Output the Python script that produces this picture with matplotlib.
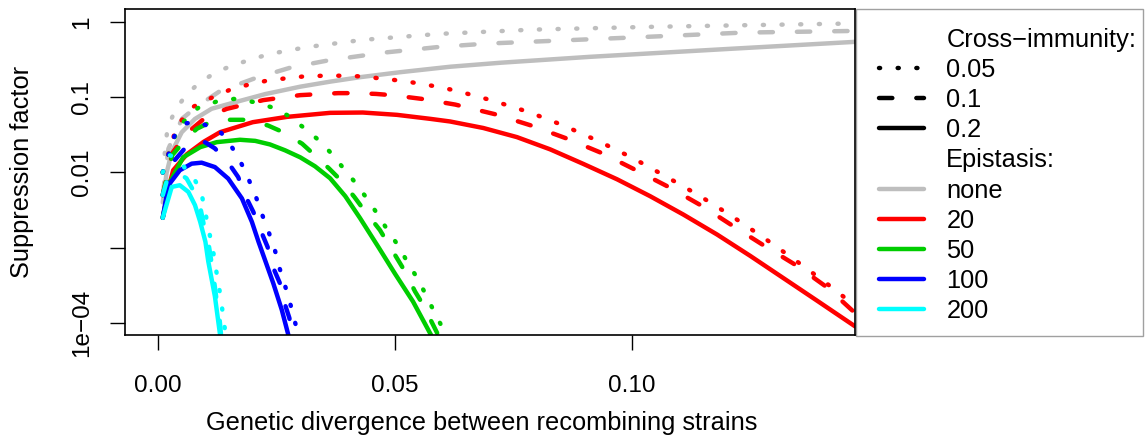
import matplotlib
matplotlib.use("Agg")
import matplotlib.pyplot as plt
from matplotlib.lines import Line2D
from matplotlib.patches import Rectangle

plt.rcParams['font.family'] = ['Liberation Sans', 'DejaVu Sans']
plt.rcParams['font.size'] = 17.5

# genetic divergence (d) and suppression factor (s), one pair per curve
# epistasis: none
none_c05_d = [0.001, 0.002, 0.0036, 0.0059, 0.0088, 0.0122, 0.0159, 0.0234, 0.0314, 0.0432, 0.0593, 0.0791, 0.1032, 0.1234, 0.147]
none_c05_s = [0.010, 0.039, 0.0665, 0.107, 0.157, 0.214, 0.268, 0.374, 0.463, 0.578, 0.694, 0.791, 0.859, 0.904, 0.955]
none_c10_d = [0.001, 0.0022, 0.0034, 0.0051, 0.0082, 0.0131, 0.0205, 0.0281, 0.0361, 0.0479, 0.0595, 0.0694, 0.0996, 0.1234, 0.147]
none_c10_s = [0.005, 0.0207, 0.031, 0.052, 0.0751, 0.121, 0.179, 0.249, 0.31, 0.393, 0.467, 0.516, 0.620, 0.722, 0.760]
none_c20_d = [0.001, 0.0018, 0.0029, 0.005, 0.0078, 0.0113, 0.0152, 0.0226, 0.030, 0.0363, 0.0426, 0.0511, 0.0616,
              0.0722, 0.0911, 0.1207, 0.147]
none_c20_s = [0.004, 0.0098, 0.0187, 0.0342, 0.0515, 0.0702, 0.0823, 0.110, 0.138, 0.161, 0.1845, 0.215, 0.254,
              0.287, 0.344, 0.4395, 0.544]

# epistasis: 20
e20_c05_d = [0.001, 0.004, 0.0075, 0.0115, 0.0151, 0.0191, 0.023, 0.0269, 0.0308, 0.035, 0.039, 0.0429, 0.0468, 0.0511,
             0.0549, 0.0589, 0.0629, 0.0706, 0.0783, 0.0857, 0.093, 0.1001, 0.1072, 0.1141, 0.1209, 0.1276, 0.134, 0.1405, 0.147]
e20_c05_s = [0.010, 0.042, 0.075, 0.0997, 0.125, 0.147, 0.166, 0.178, 0.189, 0.193, 0.193, 0.189, 0.178, 0.166,
             0.153, 0.138, 0.122, 0.090, 0.0632, 0.0417, 0.0259, 0.0156, 0.0088, 0.00495, 0.00266, 0.00138, 0.000713, 0.000356, 0.00017]
e20_c10_d = [0.001, 0.003, 0.006, 0.010, 0.0145, 0.0222, 0.030, 0.038, 0.0416, 0.046, 0.0496, 0.0557, 0.0627, 0.0711,
             0.0787, 0.0863, 0.0937, 0.1006, 0.1078, 0.1148, 0.1213, 0.1281, 0.1348, 0.1411, 0.147]
e20_c10_s = [0.005, 0.018, 0.033, 0.0537, 0.070, 0.0915, 0.1066, 0.1133, 0.1133, 0.1106, 0.106, 0.0949, 0.0798, 0.0594,
             0.0421, 0.0281, 0.018, 0.0109, 0.00637, 0.00357, 0.00194, 0.00104, 0.000574, 0.000298, 0.000136]
e20_c20_d = [0.001, 0.0025, 0.0032, 0.0061, 0.0096, 0.0131, 0.020, 0.0272, 0.0363, 0.0432, 0.0504, 0.0574, 0.0616,
             0.0686, 0.0757, 0.0827, 0.0897, 0.0968, 0.1038, 0.1108, 0.1179, 0.1249, 0.1319, 0.139, 0.147]
e20_c20_s = [0.0025, 0.0072, 0.0107, 0.0175, 0.0255, 0.0343, 0.0466, 0.0548, 0.062, 0.0626, 0.0583, 0.0516, 0.0476,
             0.039, 0.0295, 0.0203, 0.013, 0.00813, 0.00484, 0.00276, 0.0015, 0.00078, 0.000395, 0.000198, 0.0000904]

# epistasis: 50
e50_c05_d = [0.001, 0.0042, 0.0084, 0.0122, 0.016, 0.020, 0.024, 0.0274, 0.0306, 0.0338, 0.0365, 0.039, 0.0416, 0.0439,
             0.0462, 0.0483, 0.0506, 0.0525, 0.0546, 0.0565, 0.0582, 0.0601, 0.0608]
e50_c05_s = [0.010, 0.040, 0.0718, 0.0869, 0.0949, 0.0867, 0.0735, 0.0571, 0.040, 0.0272, 0.0181, 0.0116, 0.00735, 0.00466,
             0.00286, 0.00176, 0.00108, 0.000663, 0.000402, 0.000238, 0.000143, 0.000084, 0.000065]
e50_c10_d = [0.001, 0.003, 0.006, 0.0082, 0.011, 0.0152, 0.0186, 0.0232, 0.0264, 0.0304, 0.0327, 0.0361, 0.0384, 0.0414,
             0.0432, 0.0468, 0.0504, 0.0521, 0.0542, 0.0559, 0.058, 0.0591]
e50_c10_s = [0.005, 0.017, 0.0283, 0.0381, 0.0466, 0.0501, 0.0501, 0.0421, 0.0343, 0.0241, 0.0178, 0.01126, 0.00806, 0.00474,
             0.00333, 0.00172, 0.000726, 0.000483, 0.000263, 0.000175, 0.000095, 0.000069]
e50_c20_d = [0.001, 0.0025, 0.0053, 0.0089, 0.0124, 0.0173, 0.0205, 0.0236, 0.0268, 0.030, 0.0331, 0.0363, 0.0395,
             0.0426, 0.0466, 0.050, 0.0538, 0.0576]
e50_c20_s = [0.0025, 0.0074, 0.0159, 0.0217, 0.0253, 0.0272, 0.0263, 0.0236, 0.0197, 0.0159, 0.0121, 0.00838, 0.00484,
             0.00248, 0.000994, 0.00045, 0.000192, 0.000069]

# epistasis: 100
e100_c05_d = [0.001, 0.0035, 0.006, 0.0085, 0.0131, 0.0155, 0.0175, 0.0192, 0.0207, 0.022, 0.0234, 0.0247, 0.0257,
              0.0269, 0.028, 0.029, 0.0293]
e100_c05_s = [0.010, 0.031, 0.0451, 0.047, 0.0351, 0.0222, 0.0135, 0.00789, 0.00466, 0.00272, 0.00158, 0.000907, 0.00052,
              0.000297, 0.00017, 0.000097, 0.00007]
e100_c10_d = [0.001, 0.0035, 0.0062, 0.0096, 0.012, 0.0152, 0.0169, 0.0187, 0.0201, 0.0219, 0.0231, 0.0245, 0.0257,
              0.0268, 0.0277, 0.0283]
e100_c10_s = [0.005, 0.0145, 0.0229, 0.0259, 0.0209, 0.01245, 0.00871, 0.00452, 0.003, 0.00156, 0.00103, 0.000508,
              0.000339, 0.000175, 0.000117, 0.000069]
e100_c20_d = [0.001, 0.0022, 0.0046, 0.0071, 0.0092, 0.012, 0.0148, 0.0177, 0.0198, 0.0212, 0.0243, 0.0261, 0.0275]
e100_c20_s = [0.0025, 0.00677, 0.0107, 0.0131, 0.0135, 0.0118, 0.0083, 0.00452, 0.00221, 0.0012, 0.000339, 0.00015, 0.000069]

# epistasis: 200
e200_c05_d = [0.001, 0.0025, 0.0042, 0.006, 0.0078, 0.0091, 0.0099, 0.0106, 0.0115, 0.0121, 0.0128, 0.0134, 0.0139, 0.0143]
e200_c05_s = [0.010, 0.0169, 0.0154, 0.0107, 0.00789, 0.00552, 0.00316, 0.00181, 0.00102, 0.000574, 0.000322, 0.000181,
              0.000102, 0.000069]
e200_c10_d = [0.001, 0.0019, 0.004, 0.006, 0.0078, 0.0089, 0.0096, 0.0106, 0.0112, 0.0118, 0.0124, 0.013, 0.0133]
e200_c10_s = [0.005, 0.00789, 0.010, 0.00838, 0.00526, 0.0035, 0.00211, 0.0012, 0.00069, 0.000375, 0.000192, 0.000111, 0.000069]
e200_c20_d = [0.001, 0.0029, 0.0046, 0.0064, 0.0078, 0.0089, 0.010, 0.0106, 0.012, 0.0131]
e200_c20_s = [0.0025, 0.00643, 0.00677, 0.00552, 0.00368, 0.00221, 0.0012, 0.00066, 0.000226, 0.000069]

epistasis_labels = ["none", "20", "50", "100", "200"]
epistasis_colors = ["#bebebe", "#ff0000", "#00cd00", "#0000ff", "#00ffff"]
cross_labels = ["0.05", "0.1", "0.2"]

LW = 3.2
DOT = (0, (0.25, 3.95))
DASH = (0, (3.0, 5.4))
styles = [DOT, DASH, "-"]

curves = [
    [(none_c05_d, none_c05_s), (none_c10_d, none_c10_s), (none_c20_d, none_c20_s)],
    [(e20_c05_d, e20_c05_s), (e20_c10_d, e20_c10_s), (e20_c20_d, e20_c20_s)],
    [(e50_c05_d, e50_c05_s), (e50_c10_d, e50_c10_s), (e50_c20_d, e50_c20_s)],
    [(e100_c05_d, e100_c05_s), (e100_c10_d, e100_c10_s), (e100_c20_d, e100_c20_s)],
    [(e200_c05_d, e200_c05_s), (e200_c10_d, e200_c10_s), (e200_c20_d, e200_c20_s)],
]

W, H = 1145, 437
fig = plt.figure(figsize=(W / 100, H / 100), dpi=100)
ax = fig.add_axes([125 / W, 1 - 335 / H, 730 / W, 326 / H])

for col, group in zip(epistasis_colors, curves):
    for ls, (d, s) in zip(styles, group):
        ax.plot(d, s, color=col, lw=LW, linestyle=ls,
                dash_capstyle="round", solid_capstyle="round",
                dash_joinstyle="round", solid_joinstyle="round")

ax.set_yscale("log")
ax.set_xlim(-0.00696, 0.147)
ax.set_ylim(6.93e-5, 1.486)

ax.set_xticks([0.0, 0.05, 0.10])
ax.set_xticklabels(["0.00", "0.05", "0.10"])
ax.set_yticks([1, 0.1, 0.01, 0.001, 1e-4])
ax.set_yticklabels(["1", "0.1", "0.01", "", "1e\u221204"], rotation=90, va="center")
ax.minorticks_off()
ax.tick_params(axis="both", direction="out", length=10.5, width=1.0)
ax.tick_params(axis="x", pad=18.5)
ax.tick_params(axis="y", pad=12.5)

for sp in ax.spines.values():
    sp.set_linewidth(1.2)

ax.set_xlabel("Genetic divergence between recombining strains", fontsize=18.3)
ax.xaxis.label.set_va("baseline")
ax.xaxis.set_label_coords(0.488, -(430 - 335) / 326)
ax.set_ylabel("Suppression factor", fontsize=18.3)
ax.yaxis.set_label_coords(-0.125, 0.5)

# legend box (drawn behind the legend entries)
fig.add_artist(Rectangle((856 / W, 1 - 336 / H), (1143 - 856) / W, (336 - 9) / H,
                         transform=fig.transFigure, facecolor="white", edgecolor="#a0a0a0",
                         lw=1.0, zorder=-1))

handles = [Line2D([], [], color="none")]
handles += [Line2D([], [], color="black", lw=LW, linestyle=ls, dash_capstyle="round",
                   solid_capstyle="round") for ls in styles]
handles += [Line2D([], [], color="none")]
handles += [Line2D([], [], color=c, lw=LW, solid_capstyle="round") for c in epistasis_colors]
labels = ["Cross\u2212immunity:"] + cross_labels + ["Epistasis:"] + epistasis_labels

leg = ax.legend(handles, labels, loc="upper left", bbox_to_anchor=(879 / W, 1 - 28 / H),
                bbox_transform=fig.transFigure, frameon=False, borderaxespad=0, borderpad=0,
                handlelength=1.77, handletextpad=0.88, labelspacing=0.24, fontsize=18.3)

fig.savefig("out.png", dpi=100)
